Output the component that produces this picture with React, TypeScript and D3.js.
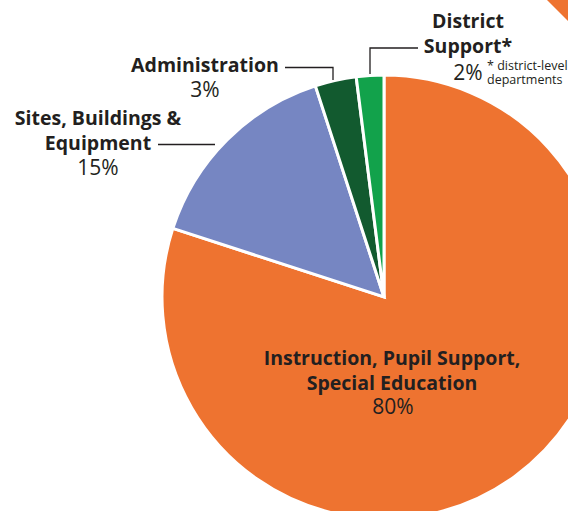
import React, { useEffect, useRef } from 'react';
import * as d3 from 'd3';

const categories = [
  'Instruction, Pupil Support, Special Education',
  'Sites, Buildings & Equipment',
  'Administration',
  'District Support*',
];
const shares = [80, 15, 3, 2];
const colors = ['#ee7330', '#7686c2', '#125a2f', '#12a24b'];

const W = 568;
const H = 511;

const App = () => {
  const svgRef = useRef<SVGSVGElement>(null);

  useEffect(() => {
    const svg = d3.select(svgRef.current);
    svg.selectAll('*').remove();

    const cx = 384;
    const cy = 297;
    const r = 222;
    const ink = '#231f20';
    const font = '"Open Sans", Lato, sans-serif';

    // corner decoration
    svg.append('path')
      .attr('d', 'M547,0 L568,0 L568,21 Z')
      .attr('fill', colors[0]);

    const pie = d3.pie<number>().sort(null).value(d => d);
    const arc = d3.arc<d3.PieArcDatum<number>>().innerRadius(0).outerRadius(r);

    const g = svg.append('g').attr('transform', `translate(${cx},${cy})`);
    g.selectAll('path')
      .data(pie(shares))
      .enter()
      .append('path')
      .attr('d', arc)
      .attr('fill', (_, i) => colors[i])
      .attr('stroke', '#fff')
      .attr('stroke-width', 3)
      .attr('stroke-linejoin', 'miter');

    const text = (x: number, y: number, s: string, opts: { size?: number; weight?: number; anchor?: string } = {}) =>
      svg.append('text')
        .attr('x', x)
        .attr('y', y)
        .attr('text-anchor', opts.anchor ?? 'middle')
        .attr('font-family', font)
        .attr('font-size', opts.size ?? 19.5)
        .attr('font-weight', opts.weight ?? 700)
        .attr('fill', ink)
        .text(s);

    const line = (pts: [number, number][]) =>
      svg.append('path')
        .attr('d', d3.line()(pts))
        .attr('fill', 'none')
        .attr('stroke', ink)
        .attr('stroke-width', 1.3);

    const pct = 21;

    // Instruction
    text(392, 365, 'Instruction, Pupil Support,');
    text(392, 390, 'Special Education');
    text(393, 414, `${shares[0]}%`, { size: pct, weight: 400 });

    // Sites
    text(98, 125, 'Sites, Buildings &');
    text(98, 150, 'Equipment');
    text(98, 175, `${shares[1]}%`, { size: pct, weight: 400 });
    line([[158, 144.5], [215, 144.5]]);

    // Administration
    text(205, 72, categories[2]);
    text(205, 97, `${shares[2]}%`, { size: pct, weight: 400 });
    line([[285, 67.5], [333, 67.5], [333, 80]]);

    // District
    text(468, 28, 'District');
    text(468, 53, 'Support*');
    text(468, 80, `${shares[3]}%`, { size: pct, weight: 400 });
    text(487, 70, '* district-level', { size: 12.5, weight: 400, anchor: 'start' });
    text(487, 84, 'departments', { size: 12.5, weight: 400, anchor: 'start' });
    line([[370, 74], [370, 48], [418, 48]]);
  }, []);

  return (
    <svg
      ref={svgRef}
      width={W}
      height={H}
      style={{ position: 'absolute', left: 0, top: 0, background: '#fff' }}
    />
  );
};

export default App;
